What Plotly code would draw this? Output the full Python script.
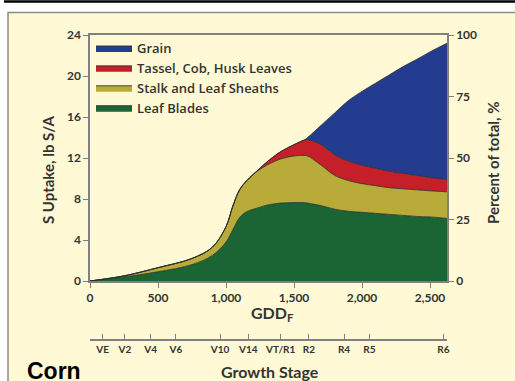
import plotly.graph_objects as go

# ---------------- data ----------------
gdd = [0, 250, 500, 750, 900, 1000, 1050, 1100, 1150, 1200, 1250, 1300, 1400,
       1500, 1575, 1600, 1700, 1800, 1900, 2000, 2100, 2200, 2300, 2400, 2500, 2625]
leaf_blades = [0, 0.4, 0.9, 1.6, 2.5, 3.8, 5.0, 6.2, 6.75, 7.0, 7.2, 7.4, 7.6,
               7.65, 7.65, 7.6, 7.35, 7.0, 6.8, 6.7, 6.6, 6.5, 6.4, 6.3, 6.25, 6.1]
stalk_sheaths = [0, 0.1, 0.4, 0.6, 0.8, 1.5, 2.3, 2.7, 3.0, 3.4, 3.7, 3.9, 4.3,
                 4.55, 4.6, 4.6, 3.95, 3.3, 3.0, 2.8, 2.7, 2.6, 2.6, 2.6, 2.55, 2.6]
tassel_cob_husk = [0, 0, 0, 0, 0, 0, 0, 0, 0, 0, 0.1, 0.3, 0.7,
                   1.1, 1.5, 1.6, 2.0, 2.0, 1.9, 1.8, 1.7, 1.6, 1.5, 1.4, 1.3, 1.2]
grain = [0, 0, 0, 0, 0, 0, 0, 0, 0, 0, 0, 0, 0,
         0, 0, 0.2, 1.9, 4.1, 5.9, 7.2, 8.3, 9.4, 10.4, 11.3, 12.25, 13.3]

series_names = ["Leaf Blades", "Stalk and Leaf Sheaths", "Tassel, Cob, Husk Leaves", "Grain"]
series_colors = ["#1A6533", "#B8AB3A", "#C5202A", "#243C8F"]

x_ticks = [0, 500, 1000, 1500, 2000, 2500]
y_ticks = [0, 4, 8, 12, 16, 20, 24]
pct_ticks = [0, 25, 50, 75, 100]

stage_gdd = [93, 257, 446, 632, 956, 1164, 1402, 1610, 1868, 2054, 2598]
stage_names = ["VE", "V2", "V4", "V6", "V10", "V14", "VT/R1", "R2", "R4", "R5", "R6"]

# ---------------- figure ----------------
FONT = "Lato"
TXT = "#333333"
AX = "#808080"

fig = go.Figure()
for name, vals, col in zip(series_names, [leaf_blades, stalk_sheaths, tassel_cob_husk, grain], series_colors):
    fig.add_trace(go.Scatter(
        x=gdd, y=vals, name=name, mode="lines", stackgroup="one",
        line=dict(color="#2a2a2a", width=0.8, shape="spline", smoothing=1.0),
        fillcolor=col,
    ))

# invisible anchor traces so the secondary axes are drawn
fig.add_trace(go.Scatter(x=[gdd[0]], y=[pct_ticks[0]], yaxis="y2", mode="markers",
                         marker=dict(opacity=0), showlegend=False, hoverinfo="skip"))
fig.add_trace(go.Scatter(x=[stage_gdd[0]], y=[y_ticks[0]], xaxis="x2", mode="markers",
                         marker=dict(opacity=0), showlegend=False, hoverinfo="skip"))

W, H = 515, 381
L, R, T, B = 90, 68, 35, 41
ph = H - T - B
pw = W - L - R
ydom0 = (H - B - 281) / ph

def px(xp):
    return (xp - L) / pw

def py(yp):
    return (H - B - yp) / ph

def ann(text, x, y, size, angle=0, xanchor="center", yanchor="middle", family=FONT, color=TXT):
    return dict(text=text, x=px(x), y=py(y), xref="paper", yref="paper",
                xanchor=xanchor, yanchor=yanchor, textangle=angle, showarrow=False,
                font=dict(family=family, size=size, weight=700, color=color))

tick_font = dict(family=FONT, size=12, weight=700, color=TXT)

fig.update_layout(
    width=W, height=H,
    margin=dict(l=L, r=R, t=T, b=B),
    paper_bgcolor="white",
    plot_bgcolor="white",
    font=dict(family=FONT, color=TXT, size=12, weight=700),
    showlegend=True,
    legend=dict(
        x=px(91), y=py(33), xanchor="left", yanchor="top",
        bgcolor="rgba(0,0,0,0)", traceorder="reversed",
        font=dict(family="Open Sans", size=13, color=TXT, weight=600),
        itemwidth=36, tracegroupgap=0,
    ),
    xaxis=dict(
        range=[0, 2625], tickvals=x_ticks, tickformat=",",
        showline=True, linecolor=AX, linewidth=1.5, mirror=True,
        ticks="outside", ticklen=5, tickcolor=AX,
        showgrid=False, zeroline=False, anchor="y",
        tickfont=tick_font,
    ),
    xaxis2=dict(
        range=[0, 2625], overlaying="x", anchor="free", position=0, side="bottom",
        tickvals=stage_gdd, ticktext=stage_names,
        showline=True, linecolor=AX, linewidth=1.5,
        ticks="inside", ticklen=5, tickcolor=AX,
        showgrid=False, zeroline=False,
        tickfont=dict(family=FONT, size=10, weight=700, color=TXT),
    ),
    yaxis=dict(
        domain=[ydom0, 1], range=[0, 24], tickvals=y_ticks,
        showline=True, linecolor=AX, linewidth=1.5,
        ticks="outside", ticklen=5, tickcolor=AX,
        showgrid=False, zeroline=False,
        tickfont=tick_font,
    ),
    yaxis2=dict(
        overlaying="y", side="right", anchor="x", range=[0, 100], tickvals=pct_ticks,
        showline=True, linecolor=AX, linewidth=1.5,
        ticks="outside", ticklen=5, tickcolor=AX,
        showgrid=False, zeroline=False,
        tickfont=tick_font,
    ),
    shapes=[
        dict(type="rect", xref="paper", yref="paper", layer="below",
             x0=px(8), x1=px(530), y0=py(400), y1=py(12.5),
             fillcolor="#FFF9D6", line=dict(color="#8a8a8a", width=1.5)),
        dict(type="line", xref="paper", yref="paper",
             x0=px(4), x1=px(515), y0=py(1.5), y1=py(1.5),
             line=dict(color="black", width=2.5)),
    ],
    annotations=[
        ann("GDD<sub>F</sub>", 272, 313, 16),
        ann("Growth Stage", 270, 371, 16),
        ann("Corn", 25, 356, 23, xanchor="left", yanchor="top",
            family="Liberation Sans", color="black"),
        ann("S Uptake, lb S/A", 48, 170, 15, angle=-90),
        ann("Percent of total, %", 493, 163, 15, angle=-90),
    ],
)

fig.write_html("out.html", post_script="document.body.style.margin='0';",
               config={"displayModeBar": False})
